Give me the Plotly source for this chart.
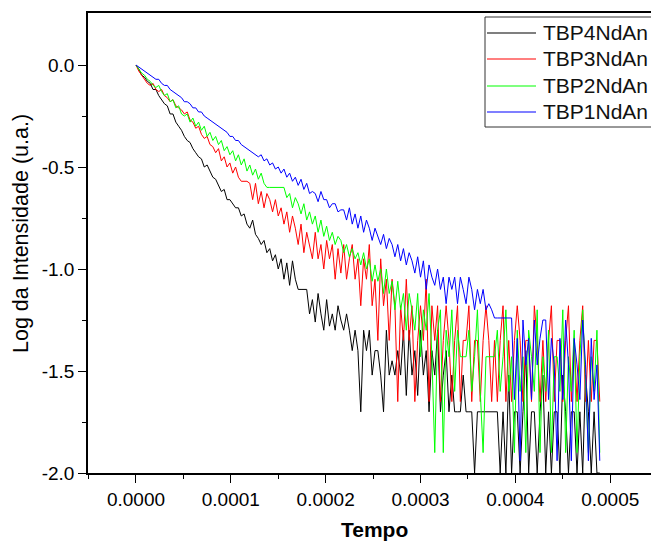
import plotly.graph_objects as go

# ---- data ----
t0 = 0.0
dt = 3.0e-6  # sampling step of the time axis

names = ["TBP4NdAn", "TBP3NdAn", "TBP2NdAn", "TBP1NdAn"]
colors = ["#000000", "#FF0000", "#00FF00", "#0000FF"]

tbp4 = [0.00, -0.02, -0.05, -0.06, -0.08, -0.09, -0.12, -0.12, -0.15, -0.17,
        -0.19, -0.20, -0.24, -0.24, -0.28, -0.30, -0.32, -0.35, -0.37, -0.38,
        -0.41, -0.43, -0.45, -0.46, -0.50, -0.49, -0.52, -0.55, -0.56, -0.59,
        -0.62, -0.61, -0.66, -0.66, -0.68, -0.70, -0.70, -0.74, -0.73, -0.78,
        -0.80, -0.76, -0.83, -0.85, -0.88, -0.86, -0.92, -0.90, -0.96, -0.93,
        -1.00, -0.95, -1.05, -0.97, -1.08, -0.96, -1.05, -1.10, -1.10, -1.10,
        -1.10, -1.22, -1.15, -1.26, -1.12, -1.22, -1.30, -1.15, -1.28, -1.22,
        -1.30, -1.18, -1.25, -1.30, -1.22, -1.30, -1.40, -1.30, -1.40, -1.70,
        -1.30, -1.40, -1.30, -1.52, -1.40, -1.40, -1.52, -1.70, -1.30, -1.52,
        -1.45, -1.52, -1.40, -1.52, -1.30, -1.62, -1.30, -1.52, -1.40, -1.62,
        -1.30, -1.52, -1.40, -1.70, -1.40, -1.52, -1.30, -1.70, -1.52, -1.40,
        -1.70, -1.52, -1.70, -1.70, -1.70, -1.52, -1.70, -1.70, -1.70, -2.00,
        -1.70, -1.70, -1.70, -1.70, -1.70, -1.70, -1.70, -1.70, -2.00, -1.70,
        -2.00, -1.52, -2.00, -1.70, -1.70, -2.00, -1.70, -1.40, -2.00, -1.70,
        -1.70, -2.00, -1.70, -1.52, -2.00, -1.70, -2.00, -1.70, -1.70, -2.00,
        -1.52, -1.70, -2.00, -1.70, -1.70, -2.00, -1.70, -2.00, -1.52, -1.70,
        -2.00, -1.70, -2.00, -2.00]

tbp3 = [0.00, -0.03, -0.05, -0.07, -0.09, -0.10, -0.09, -0.12, -0.13, -0.12,
        -0.15, -0.16, -0.18, -0.17, -0.20, -0.21, -0.22, -0.24, -0.23, -0.27,
        -0.28, -0.31, -0.30, -0.34, -0.36, -0.35, -0.39, -0.40, -0.43, -0.41,
        -0.47, -0.45, -0.50, -0.48, -0.53, -0.50, -0.55, -0.57, -0.57, -0.57,
        -0.58, -0.66, -0.58, -0.68, -0.62, -0.70, -0.63, -0.66, -0.72, -0.66,
        -0.74, -0.70, -0.78, -0.72, -0.82, -0.74, -0.80, -0.88, -0.78, -0.92,
        -0.82, -0.88, -0.95, -0.82, -0.95, -0.88, -1.00, -0.86, -0.95, -0.88,
        -1.05, -0.90, -1.02, -0.88, -1.05, -0.95, -0.88, -1.05, -0.95, -1.18,
        -0.95, -1.05, -0.88, -1.18, -1.05, -1.35, -0.95, -1.18, -1.05, -1.35,
        -1.05, -1.18, -1.65, -1.18, -1.35, -1.05, -1.35, -1.18, -1.65, -1.35,
        -1.18, -1.35, -1.05, -1.65, -1.18, -1.35, -1.18, -1.65, -1.35, -1.18,
        -1.35, -1.65, -1.35, -1.18, -1.65, -1.35, -1.35, -1.18, -1.65, -1.35,
        -1.35, -1.65, -1.35, -1.18, -1.35, -1.65, -1.35, -1.65, -1.35, -1.18,
        -1.65, -1.35, -1.65, -1.35, -1.18, -1.35, -1.65, -1.35, -1.35, -1.65,
        -1.18, -1.35, -1.65, -1.35, -1.65, -1.35, -1.18, -1.65, -1.35, -1.35,
        -1.65, -1.35, -1.18, -1.65, -1.35, -1.65, -1.35, -1.18, -1.65, -1.35,
        -1.65, -1.35, -1.35, -1.65]

tbp2 = [0.00, -0.02, -0.04, -0.05, -0.07, -0.08, -0.10, -0.11, -0.10, -0.13,
        -0.15, -0.14, -0.18, -0.17, -0.21, -0.20, -0.24, -0.25, -0.24, -0.28,
        -0.26, -0.30, -0.28, -0.32, -0.30, -0.35, -0.33, -0.37, -0.35, -0.39,
        -0.37, -0.42, -0.40, -0.44, -0.42, -0.47, -0.44, -0.49, -0.46, -0.52,
        -0.49, -0.54, -0.51, -0.56, -0.53, -0.58, -0.60, -0.60, -0.60, -0.60,
        -0.60, -0.60, -0.60, -0.65, -0.63, -0.70, -0.65, -0.68, -0.73, -0.68,
        -0.76, -0.72, -0.78, -0.74, -0.82, -0.76, -0.84, -0.79, -0.86, -0.82,
        -0.88, -0.84, -0.86, -0.92, -0.88, -0.94, -0.90, -0.95, -0.92, -0.98,
        -0.92, -1.00, -0.95, -1.06, -0.98, -1.06, -1.00, -1.12, -1.00, -1.12,
        -1.06, -1.20, -1.06, -1.20, -1.12, -1.30, -1.12, -1.20, -1.30, -1.12,
        -1.43, -1.20, -1.30, -1.12, -1.43, -1.90, -1.30, -1.20, -1.90, -1.30,
        -1.43, -1.20, -1.60, -1.30, -1.43, -1.43, -1.43, -1.30, -1.60, -1.43,
        -1.20, -1.60, -1.90, -1.43, -1.43, -1.43, -1.43, -1.30, -1.60, -1.43,
        -1.20, -1.60, -1.43, -1.90, -1.30, -1.60, -1.43, -1.90, -1.30, -1.43,
        -1.60, -1.20, -1.90, -1.43, -1.60, -1.30, -1.90, -1.43, -1.43, -1.60,
        -1.20, -1.90, -1.43, -1.60, -1.30, -1.90, -1.43, -1.20, -1.60, -1.90,
        -1.43, -1.60, -1.30, -1.90]

tbp1 = [0.00, -0.01, -0.02, -0.03, -0.04, -0.05, -0.06, -0.07, -0.07, -0.09,
        -0.10, -0.10, -0.12, -0.13, -0.14, -0.15, -0.16, -0.18, -0.18, -0.19,
        -0.21, -0.21, -0.23, -0.23, -0.25, -0.26, -0.27, -0.28, -0.29, -0.30,
        -0.31, -0.32, -0.33, -0.35, -0.35, -0.37, -0.37, -0.39, -0.40, -0.41,
        -0.42, -0.43, -0.44, -0.45, -0.44, -0.47, -0.46, -0.49, -0.48, -0.51,
        -0.50, -0.53, -0.51, -0.55, -0.53, -0.57, -0.55, -0.59, -0.56, -0.61,
        -0.58, -0.63, -0.62, -0.63, -0.67, -0.62, -0.66, -0.66, -0.70, -0.68,
        -0.68, -0.72, -0.71, -0.71, -0.76, -0.70, -0.78, -0.73, -0.80, -0.74,
        -0.82, -0.76, -0.80, -0.86, -0.80, -0.84, -0.88, -0.83, -0.90, -0.85,
        -0.88, -0.94, -0.88, -0.96, -0.90, -0.98, -0.92, -0.96, -1.02, -0.94,
        -1.04, -0.96, -1.10, -0.98, -1.04, -1.08, -1.00, -1.10, -1.04, -1.17,
        -1.04, -1.10, -1.04, -1.17, -1.04, -1.10, -1.17, -1.04, -1.10, -1.20,
        -1.10, -1.17, -1.10, -1.20, -1.17, -1.20, -1.24, -1.24, -1.24, -1.24,
        -1.24, -1.24, -1.24, -1.64, -1.34, -1.94, -1.25, -1.47, -1.34, -1.64,
        -1.25, -1.47, -1.34, -1.25, -1.25, -1.64, -1.34, -1.47, -1.94, -1.34,
        -1.64, -1.25, -1.47, -1.94, -1.34, -1.47, -1.64, -1.25, -1.47, -1.94,
        -1.34, -1.64, -1.47, -1.94]

series = [tbp4, tbp3, tbp2, tbp1]

x_tickvals = [0.0, 0.0001, 0.0002, 0.0003, 0.0004, 0.0005]
x_ticktext = ["0.0000", "0.0001", "0.0002", "0.0003", "0.0004", "0.0005"]
x_minor = [-0.00005, 0.00005, 0.00015, 0.00025, 0.00035, 0.00045]
y_tickvals = [0.0, -0.5, -1.0, -1.5, -2.0]
y_ticktext = ["0.0", "-0.5", "-1.0", "-1.5", "-2.0"]
y_minor = [-0.25, -0.75, -1.25, -1.75]

# ---- layout geometry (pixels) ----
W, H = 651, 542
L, R, T, B = 88, 0, 13, 69
pw, ph = W - L - R, H - T - B


def px(xp):
    return (xp - L) / pw


def py(yp):
    return (H - B - yp) / ph


FONT = "Liberation Sans, Arial, sans-serif"

fig = go.Figure()
for name, col, ys in zip(names, colors, series):
    fig.add_trace(go.Scatter(x0=t0, dx=dt, y=ys, mode="lines", name=name,
                             line=dict(color=col, width=1), showlegend=False))

fig.update_layout(
    width=W, height=H,
    margin=dict(l=L, r=R, t=T, b=B, pad=0),
    paper_bgcolor="white", plot_bgcolor="white",
    font=dict(family=FONT, color="#000000"),
    showlegend=False,
)
fig.update_xaxes(
    range=[-0.0000506, 0.000543],
    tickmode="array", tickvals=x_tickvals, ticktext=x_ticktext,
    ticks="outside", ticklen=8, tickwidth=1.2, tickcolor="#000",
    minor=dict(tickmode="array", tickvals=x_minor, ticks="outside", ticklen=4,
               tickwidth=1.2, tickcolor="#000"),
    showline=True, linecolor="#000", linewidth=1.5, mirror=True,
    showgrid=False, zeroline=False,
    tickfont=dict(size=19, family=FONT, color="#000"),
)
fig.update_yaxes(
    range=[-2.0, 0.255],
    tickmode="array", tickvals=y_tickvals, ticktext=y_ticktext,
    ticks="outside", ticklen=8, tickwidth=1.2, tickcolor="#000",
    minor=dict(tickmode="array", tickvals=y_minor, ticks="outside", ticklen=4,
               tickwidth=1.2, tickcolor="#000"),
    showline=True, linecolor="#000", linewidth=1.5, mirror=False,
    showgrid=False, zeroline=False,
    tickfont=dict(size=19, family=FONT, color="#000"),
)

annotations = [
    dict(text="<b>Tempo</b>", x=px(374), y=py(516), xref="paper", yref="paper",
         xanchor="center", yanchor="top", showarrow=False,
         font=dict(size=21, family=FONT, color="#000")),
    dict(text="Log da Intensidade (u.a.)", x=px(21), y=py(234), xref="paper",
         yref="paper", xanchor="center", yanchor="middle", textangle=-90,
         showarrow=False, font=dict(size=21.5, family=FONT, color="#000")),
]
shapes = [dict(type="rect", xref="paper", yref="paper", x0=px(485), x1=px(670),
               y0=py(17), y1=py(127), line=dict(color="#333", width=1),
               fillcolor="white", layer="above")]
rows = [33, 59, 86, 112]
for name, col, yr in zip(names, colors, rows):
    shapes.append(dict(type="line", xref="paper", yref="paper", x0=px(487),
                       x1=px(536), y0=py(yr), y1=py(yr),
                       line=dict(color=col, width=1.2), layer="above"))
    annotations.append(dict(text=name, x=px(541), y=py(yr), xref="paper",
                            yref="paper", xanchor="left", yanchor="middle",
                            showarrow=False,
                            font=dict(size=21, family=FONT, color="#111")))
fig.update_layout(annotations=annotations, shapes=shapes)

fig.write_html("out.html")
